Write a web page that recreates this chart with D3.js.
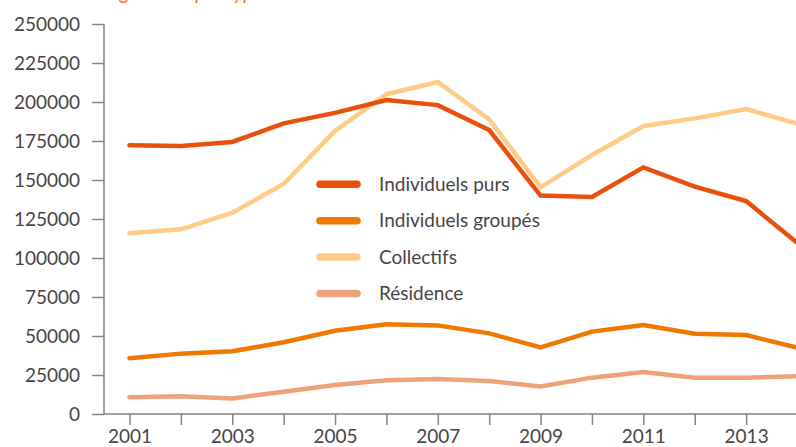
<!DOCTYPE html>
<html><head><meta charset="utf-8">
<script src="https://cdn.jsdelivr.net/npm/d3@7"></script>
<style>
html,body{margin:0;padding:0;background:#fff;overflow:hidden;}
text{font-family:Lato,"Open Sans",sans-serif;}
</style></head>
<body>
<svg id="chart" width="796" height="447"></svg>
<script>
const years = [2001,2002,2003,2004,2005,2006,2007,2008,2009,2010,2011,2012,2013,2014];
const individuelsPurs   = [172200,171800,174400,186300,193000,201300,198000,182000,140000,139100,158100,145700,136500,109600];
const individuelsGroupes= [35700,38700,40200,46000,53400,57500,56800,51700,42700,52800,57000,51500,50600,42500];
const collectifs        = [115800,118400,129000,147400,181400,205000,212800,188900,145300,166000,184600,189500,195500,186000];
const residence         = [10700,11300,10000,14300,18600,21600,22400,21200,17700,23300,26900,23300,23300,24200];
const yTicks = [0,25000,50000,75000,100000,125000,150000,175000,200000,225000,250000];
const xTickLabels = [2001,2003,2005,2007,2009,2011,2013];
const seriesNames = ["Individuels purs","Individuels groupés","Collectifs","Résidence"];
const seriesColors = ["#e8500c","#f07800","#ffcc87","#eea27c"];
const title = "Nombre de logements par type";

const series = [
  {name:seriesNames[0], values:individuelsPurs, color:seriesColors[0]},
  {name:seriesNames[1], values:individuelsGroupes, color:seriesColors[1]},
  {name:seriesNames[2], values:collectifs, color:seriesColors[2]},
  {name:seriesNames[3], values:residence, color:seriesColors[3]}
];

const svg = d3.select("#chart");
const x = d3.scaleLinear().domain([2001,2014]).range([129.5,797.5]);
const y = d3.scaleLinear().domain([0,250000]).range([414,24]);
const axisColor = "#8c827f", textColor = "#4a4446";

// title (cut off at the top edge, as in the reference)
svg.append("text").attr("x",5).attr("y",0).attr("fill","#f07030")
  .attr("font-size",19).text(title);

// y axis
const gy = svg.append("g").attr("transform","translate(104,0)")
  .call(d3.axisLeft(y).tickValues(yTicks).tickSize(12).tickPadding(12).tickFormat(d3.format("d")));
gy.select(".domain").attr("stroke",axisColor).attr("stroke-width",1.5).attr("d","M0,24V414");
gy.selectAll(".tick line").attr("stroke",axisColor).attr("stroke-width",1.5);
gy.selectAll(".tick text").attr("fill",textColor).attr("font-size",19).attr("font-family","Lato");

// x axis
const gx = svg.append("g").attr("transform","translate(0,414)")
  .call(d3.axisBottom(x).tickValues(years).tickSize(11).tickPadding(5)
    .tickFormat(d => xTickLabels.includes(d) ? String(d) : ""));
gx.select(".domain").attr("stroke",axisColor).attr("stroke-width",1.5).attr("d","M104,0H796");
gx.selectAll(".tick line").attr("stroke",axisColor).attr("stroke-width",1.5);
gx.selectAll(".tick text").attr("fill",textColor).attr("font-size",19).attr("font-family","Lato");

// lines
const line = d3.line().x((d,i)=>x(years[i])).y(d=>y(d));
svg.append("g").selectAll("path").data([series[3],series[1],series[2],series[0]]).join("path")
  .attr("d",d=>line(d.values)).attr("fill","none").attr("stroke",d=>d.color)
  .attr("stroke-width",4.5).attr("stroke-linejoin","miter").attr("stroke-linecap","round");

// legend
const lg = svg.append("g").selectAll("g").data(series).join("g")
  .attr("transform",(d,i)=>`translate(0,${184.3+i*36.4})`);
lg.append("line").attr("x1",320).attr("x2",357).attr("y1",0).attr("y2",0)
  .attr("stroke",d=>d.color).attr("stroke-width",7.5).attr("stroke-linecap","round");
lg.append("text").attr("x",379).attr("y",0).attr("dy","0.35em").attr("fill",textColor)
  .attr("font-size",19).text(d=>d.name);
</script>
</body></html>
